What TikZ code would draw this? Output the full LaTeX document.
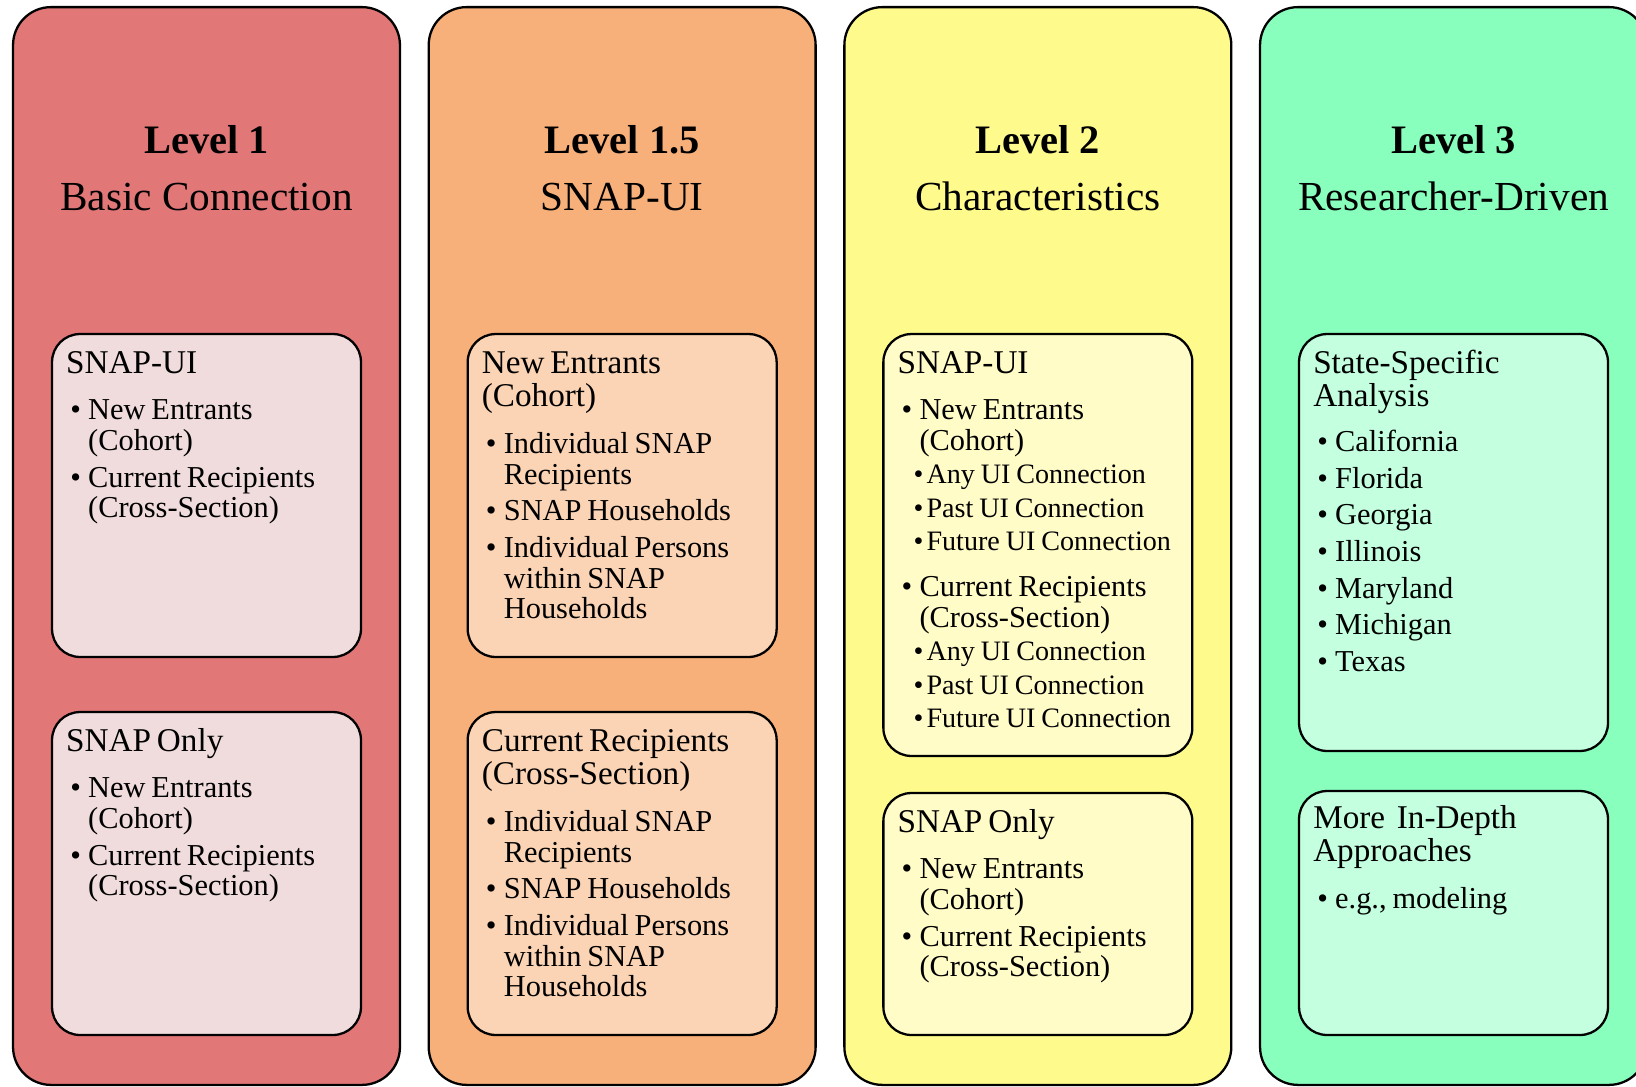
\documentclass[tikz,border=0pt]{standalone}
\usepackage{fontspec}
\setmainfont{Liberation Serif}
\usetikzlibrary{positioning}

\definecolor{lvone}{HTML}{E27777}
\definecolor{lvonelight}{HTML}{F0DCDC}
\definecolor{lvonehalf}{HTML}{F8B07A}
\definecolor{lvonehalflight}{HTML}{FAD4B4}
\definecolor{lvtwo}{HTML}{FEFB8C}
\definecolor{lvtwolight}{HTML}{FFFCC8}
\definecolor{lvthree}{HTML}{89FFBD}
\definecolor{lvthreelight}{HTML}{C4FFDF}

% lines inside the cards
\newcommand{\boxhead}[1]{{\fontsize{18.9pt}{18.5pt}\selectfont #1\par}}
\newcommand{\boxitem}[2][20.8pt]{{\fontsize{17.3pt}{17.4pt}\selectfont
  \vskip\dimexpr#1-17.4pt\relax\hangindent=12.5pt\hangafter=1
  \noindent\makebox[12.5pt][l]{\hspace{2.3pt}\textbullet}#2\par}}
\newcommand{\boxsubitem}[2][19.1pt]{{\fontsize{16pt}{19.1pt}\selectfont
  \vskip\dimexpr#1-19.1pt\relax\hangindent=16.5pt\hangafter=1
  \noindent\makebox[16.5pt][l]{\hspace{9.1pt}\textbullet}#2\par}}

\tikzset{
  panel/.style={draw, line width=1.3pt, rounded corners=0.76cm,
    minimum width=7.74cm, minimum height=21.56cm, inner sep=0pt},
  card/.style={draw, line width=1.3pt, rounded corners=0.56cm,
    minimum width=6.18cm, inner sep=0pt},
  cardtext/.style={anchor=base west, inner sep=0pt, text width=8cm},
  leveltitle/.style={anchor=base, inner sep=0pt,
    font=\fontsize{23pt}{24pt}\selectfont\bfseries},
  levelsub/.style={anchor=base, inner sep=0pt,
    font=\fontsize{23.5pt}{25pt}\selectfont},
}

\begin{document}
\begin{tikzpicture}[x=0.02cm, y=-0.02cm, node distance=8.315cm]
  \useasboundingbox (0,0) rectangle (1636,1086);
  \clip (0,0) rectangle (1636,1086);

  % the four levels
  \node[panel, fill=lvone] (lv1) at (206.5,546) {};
  \node[panel, fill=lvonehalf, right of=lv1] (lv15) {};
  \node[panel, fill=lvtwo, right of=lv15] (lv2) {};
  \node[panel, fill=lvthree, right of=lv2] (lv3) {};

  \node[leveltitle] (t1) at (lv1 |- 0,153) {Level 1};
  \node[levelsub] (s1) at (lv1 |- 0,210) {Basic Connection};
  \node[leveltitle] (t15) at (lv15 |- 0,153) {Level 1.5};
  \node[levelsub] (s15) at (lv15 |- 0,210) {SNAP-UI};
  \node[leveltitle] (t2) at (lv2 |- 0,153) {Level 2};
  \node[levelsub] (s2) at (lv2 |- 0,210) {Characteristics};
  \node[leveltitle] (t3) at (lv3 |- 0,153) {Level 3};
  \node[levelsub] (s3) at (lv3 |- 0,210) {Researcher-Driven};

  % cards
  \node[card, fill=lvonelight, minimum height=6.46cm] (c1a) at (lv1 |- 0,495.5) {};
  \node[card, fill=lvonelight, minimum height=6.46cm] (c1b) at (lv1 |- 0,873.5) {};
  \node[card, fill=lvonehalflight, minimum height=6.46cm] (c15a) at (lv15 |- 0,495.5) {};
  \node[card, fill=lvonehalflight, minimum height=6.46cm] (c15b) at (lv15 |- 0,873.5) {};
  \node[card, fill=lvtwolight, minimum height=8.44cm] (c2a) at (lv2 |- 0,545) {};
  \node[card, fill=lvtwolight, minimum height=4.84cm] (c2b) at (lv2 |- 0,914) {};
  \node[card, fill=lvthreelight, minimum height=8.34cm] (c3a) at (lv3 |- 0,542.5) {};
  \node[card, fill=lvthreelight, minimum height=4.88cm] (c3b) at (lv3 |- 0,913) {};

  \node[cardtext] (c1atext) at ([shift={(15,41)}]c1a.north west) {%
    \boxhead{SNAP-UI}
    \boxitem[26.2pt]{New Entrants\newline (Cohort)}
    \boxitem{Current Recipients\newline (Cross-Section)}};
  \node[cardtext] (c1btext) at ([shift={(15,41)}]c1b.north west) {%
    \boxhead{SNAP Only}
    \boxitem[26.2pt]{New Entrants\newline (Cohort)}
    \boxitem{Current Recipients\newline (Cross-Section)}};

  \node[cardtext] (c15atext) at ([shift={(15,41)}]c15a.north west) {%
    \boxhead{New Entrants\newline (Cohort)}
    \boxitem[27pt]{Individual SNAP\newline Recipients}
    \boxitem{SNAP Households}
    \boxitem{Individual Persons\newline within SNAP\newline Households}};
  \node[cardtext] (c15btext) at ([shift={(15,41)}]c15b.north west) {%
    \boxhead{Current Recipients\newline (Cross-Section)}
    \boxitem[27pt]{Individual SNAP\newline Recipients}
    \boxitem{SNAP Households}
    \boxitem{Individual Persons\newline within SNAP\newline Households}};

  \node[cardtext] (c2atext) at ([shift={(15,41)}]c2a.north west) {%
    \boxhead{SNAP-UI}
    \boxitem[26.2pt]{New Entrants\newline (Cohort)}
    \boxsubitem[18.8pt]{Any UI Connection}
    \boxsubitem{Past UI Connection}
    \boxsubitem{Future UI Connection}
    \boxitem[26.3pt]{Current Recipients\newline (Cross-Section)}
    \boxsubitem[18.8pt]{Any UI Connection}
    \boxsubitem{Past UI Connection}
    \boxsubitem{Future UI Connection}};
  \node[cardtext] (c2btext) at ([shift={(15,41)}]c2b.north west) {%
    \boxhead{SNAP Only}
    \boxitem[26.2pt]{New Entrants\newline (Cohort)}
    \boxitem{Current Recipients\newline (Cross-Section)}};

  \node[cardtext] (c3atext) at ([shift={(15,41)}]c3a.north west) {%
    \boxhead{State-Specific\newline Analysis}
    \boxitem[25.6pt]{California}
    \boxitem[20.9pt]{Florida}
    \boxitem[20.9pt]{Georgia}
    \boxitem[20.9pt]{Illinois}
    \boxitem[20.9pt]{Maryland}
    \boxitem[20.9pt]{Michigan}
    \boxitem[20.9pt]{Texas}};
  \node[cardtext] (c3btext) at ([shift={(15,39)}]c3b.north west) {%
    \boxhead{More\ \ In-Depth\newline Approaches}
    \boxitem[26.7pt]{e.g., modeling}};
\end{tikzpicture}
\end{document}
